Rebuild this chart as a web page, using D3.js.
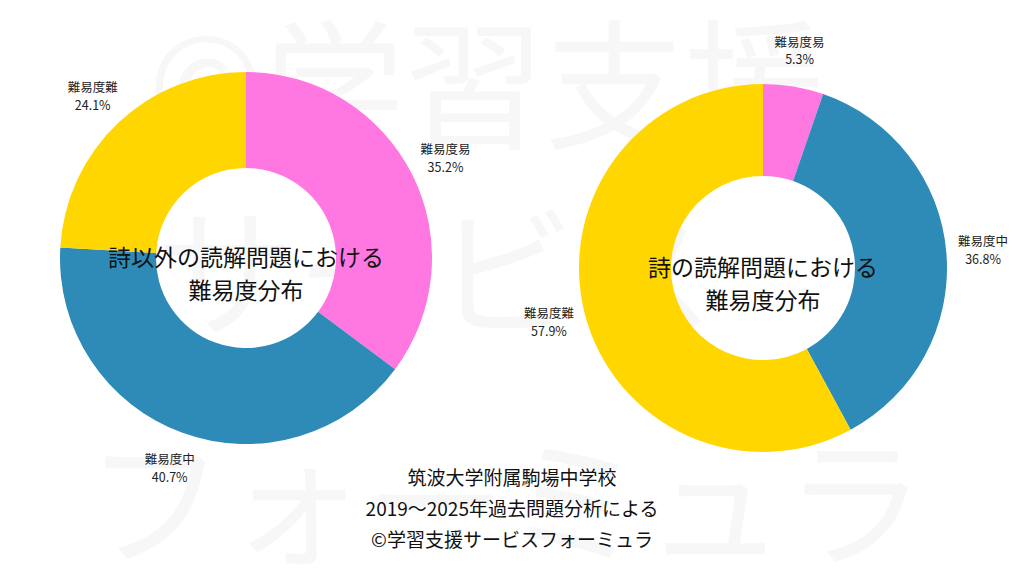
<!DOCTYPE html>
<html><head><meta charset="utf-8">
<script src="https://cdn.jsdelivr.net/npm/d3@7"></script>
<style>body{margin:0;background:#fff}text{font-family:"Noto Sans CJK JP","Noto Sans",sans-serif}</style>
</head><body><svg width="1024" height="576"></svg>
<script>
const categories = ["難易度易", "難易度中", "難易度難"]
const colors = ["#ff77e1", "#2e8bb8", "#ffd600"]
const leftValues = [35.2, 40.7, 24.1]
const rightValues = [5.3, 36.8, 57.9]
const leftTitle = ["詩以外の読解問題における", "難易度分布"]
const rightTitle = ["詩の読解問題における", "難易度分布"]
const footer = ["筑波大学附属駒場中学校", "2019～2025年過去問題分析による", "©学習支援サービスフォーミュラ"]
const watermark = ["©学習支援", "サービス", "フォーミュラ"]

const svg = d3.select("svg")

// watermark
svg.append("g").selectAll("text").data(watermark).join("text")
    .attr("x", (d, i) => [148, 155, 85][i])
    .attr("y", (d, i) => [138, 325, 555][i])
    .attr("font-size", 140)
    .attr("fill", "#f7f7f7")
    .text(d => d)

function drawDonut(cx, cy, R, r, values, title) {
    const pie = d3.pie().sort(null).value(d => d)
    const arc = d3.arc().innerRadius(r).outerRadius(R)
    const labelArc = d3.arc().innerRadius(R * 1.2).outerRadius(R * 1.2)
    const g = svg.append("g").attr("transform", `translate(${cx},${cy})`)
    const arcs = pie(values)
    g.selectAll("path").data(arcs).join("path")
        .attr("d", arc)
        .attr("fill", (d, i) => colors[i])
    const lab = g.selectAll(".lab").data(arcs).join("text")
        .attr("class", "lab")
        .attr("text-anchor", "middle")
        .attr("font-size", 12.5)
        .attr("fill", "#222")
        .attr("transform", d => `translate(${labelArc.centroid(d)})`)
    lab.append("tspan").attr("x", 0).attr("dy", "-0.3em").text((d, i) => categories[i])
    lab.append("tspan").attr("x", 0).attr("dy", "1.4em").text(d => d.data.toFixed(1) + "%")
    g.selectAll(".ttl").data(title).join("text")
        .attr("class", "ttl")
        .attr("text-anchor", "middle")
        .attr("font-size", 23)
        .attr("fill", "#111")
        .attr("y", (d, i) => 8 + i * 33)
        .text(d => d)
}

drawDonut(246, 258, 186, 90, leftValues, leftTitle)
drawDonut(763, 268, 184, 92, rightValues, rightTitle)

svg.append("g").selectAll("text").data(footer).join("text")
    .attr("x", 512)
    .attr("y", (d, i) => 485 + i * 31)
    .attr("text-anchor", "middle")
    .attr("font-size", 19)
    .attr("fill", "#111")
    .text(d => d)
</script></body></html>
